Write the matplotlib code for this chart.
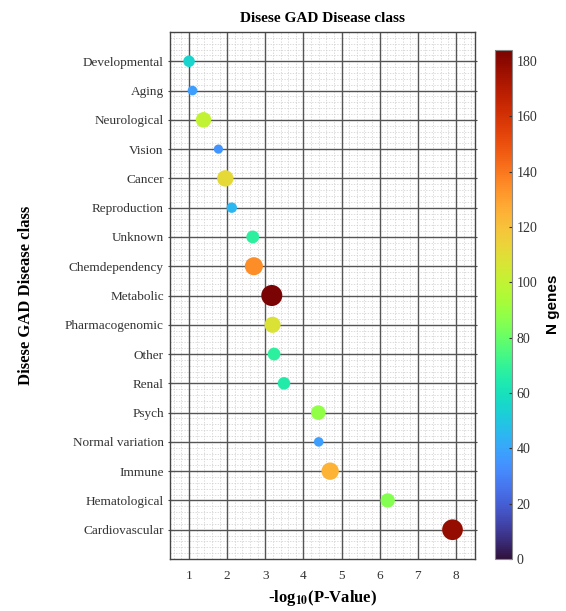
import numpy as np
import matplotlib
matplotlib.use('Agg')
import matplotlib.pyplot as plt
from matplotlib.ticker import FixedLocator

# Disease classes (top to bottom), -log10(P) and number of genes
classes = ['Developmental', 'Aging', 'Neurological', 'Vision', 'Cancer',
           'Reproduction', 'Unknown', 'Chemdependency', 'Metabolic',
           'Pharmacogenomic', 'Other', 'Renal', 'Psych', 'Normal variation',
           'Immune', 'Hematological', 'Cardiovascular']
neg_log_p = [1.00, 1.09, 1.38, 1.77, 1.95, 2.12, 2.67, 2.70, 3.17,
             3.19, 3.23, 3.49, 4.39, 4.40, 4.70, 6.21, 7.91]
n_genes = [55, 38, 100, 35, 112, 45, 68, 135, 184,
           108, 68, 65, 88, 38, 125, 85, 178]
x_ticks = [1, 2, 3, 4, 5, 6, 7, 8]

plt.rcParams['font.family'] = ['Liberation Serif', 'DejaVu Serif']
plt.rcParams['mathtext.fontset'] = 'stix'

fig = plt.figure(figsize=(5.66, 6.11), dpi=100)
ax = fig.add_axes([170 / 566, 1 - 559 / 611, 305 / 566, 527 / 611])
cax = fig.add_axes([495 / 566, 1 - 559 / 611, 17 / 566, 509 / 611])

ypos = np.arange(1, len(classes) + 1)
sizes = np.array(n_genes) * 1.25
sc = ax.scatter(neg_log_p, ypos, s=sizes, c=n_genes, cmap='turbo',
                vmin=0, vmax=184, zorder=3, edgecolors='none')

ax.set_xlim(0.5, 8.5)
ax.set_ylim(18, 0)
ax.set_yticks(ypos)
ax.set_yticklabels(classes, fontsize=9.5, color='#333333')
ax.set_xticks(x_ticks)
ax.tick_params(axis='x', length=0, pad=8, labelsize=9.5, labelcolor='#333333')
ax.tick_params(axis='y', length=3, direction='inout', left=True, right=True,
               color='#444444', labelsize=9.5, pad=3)

# minor grid every 0.2, skipping the major positions
xminor = [round(v, 1) for v in np.arange(0.6, 8.5, 0.2) if abs(v - round(v)) > 0.05]
yminor = [round(v, 1) for v in np.arange(0.2, 18, 0.2) if abs(v - round(v)) > 0.05]
ax.xaxis.set_minor_locator(FixedLocator(xminor))
ax.yaxis.set_minor_locator(FixedLocator(yminor))
ax.tick_params(which='minor', length=0)
ax.grid(which='minor', color='#cccccc', linewidth=0.5, linestyle=(0, (2, 2)))
ax.set_axisbelow(True)

# major grid drawn on top of the minor one
for xv in x_ticks:
    ax.axvline(xv, color='#555555', linewidth=1.0, zorder=1)
for yv in ypos:
    ax.axhline(yv, color='#555555', linewidth=1.0, zorder=1)

for sp in ax.spines.values():
    sp.set_color('#444444')
    sp.set_linewidth(1.0)

ax.set_title('Disese GAD Disease class', fontsize=11, fontweight='bold', pad=7)
ax.set_xlabel('-log$_{\\mathbf{10}}$(P-Value)', fontsize=12, fontweight='bold', labelpad=4)
ax.set_ylabel('Disese GAD Disease class', fontsize=12, fontweight='bold', labelpad=22)

cb = fig.colorbar(sc, cax=cax)
cb.set_ticks(range(0, 181, 20))
cb.ax.tick_params(labelsize=10, direction='in', length=2, color='#333333',
                  labelcolor='#333333')
cb.outline.set_edgecolor('#888888')
cb.set_label('N genes', fontsize=11, fontweight='bold', family='Liberation Sans',
             labelpad=6)

fig.savefig('out.png', dpi=100)
